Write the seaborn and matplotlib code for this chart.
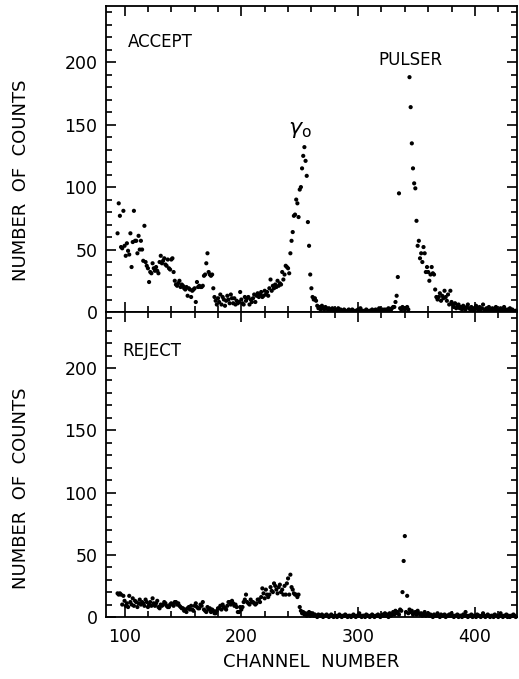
import numpy as np
import pandas as pd
import matplotlib
matplotlib.use("Agg")
import matplotlib.pyplot as plt
from matplotlib.ticker import MultipleLocator
import seaborn as sns

# ---------------- data ----------------
FIRST_CHANNEL = 94

ACCEPT_COUNTS = [
    63, 87, 77, 52, 51, 81, 53, 45, 55, 49,     # 94-103
    46, 63, 36, 56, 81, 57, 57, 47, 61, 50,     # 104-113
    57, 50, 41, 69, 40, 37, 35, 24, 32, 31,     # 114-123
    39, 35, 33, 36, 33, 31, 40, 45, 39, 41,     # 124-133
    43, 38, 37, 42, 35, 34, 42, 43, 32, 25,     # 134-143
    22, 21, 23, 25, 20, 22, 21, 19, 18, 20,     # 144-153
    13, 19, 18, 12, 17, 18, 19, 8, 24, 20,      # 154-163
    21, 20, 20, 21, 29, 30, 39, 47, 32, 30,     # 164-173
    29, 30, 19, 12, 9, 6, 11, 8, 14, 6,         # 174-183
    12, 10, 5, 9, 13, 10, 7, 14, 11, 7,         # 184-193
    11, 6, 9, 7, 8, 16, 10, 7, 6, 12,           # 194-203
    9, 11, 12, 6, 10, 8, 11, 14, 8, 13,         # 204-213
    15, 12, 14, 16, 12, 13, 17, 14, 16, 13,     # 214-223
    19, 26, 17, 21, 19, 22, 20, 25, 21, 23,     # 224-233
    22, 32, 26, 30, 37, 36, 35, 31, 47, 57,     # 234-243
    64, 77, 78, 90, 87, 76, 98, 100, 115, 125,  # 244-253
    132, 121, 109, 72, 53, 30, 19, 12, 10, 11,  # 254-263
    9, 5, 3, 4, 2, 5, 3, 2, 4, 3,               # 264-273
    2, 3, 1, 2, 3, 1, 2, 2, 1, 3,               # 274-283
    1, 2, 1, 1, 2, 1, 0, 1, 2, 1,               # 284-293
    1, 2, 1, 0, 1, 1, 2, 1, 3, 1,               # 294-303
    1, 0, 1, 2, 1, 0, 1, 1, 2, 1,               # 304-313
    1, 2, 1, 1, 3, 2, 1, 2, 1, 2,               # 314-323
    1, 2, 3, 2, 1, 3, 4, 4, 8, 13,              # 324-333
    28, 95, 3, 2, 4, 3, 2, 3, 4, 2,             # 334-343
    188, 164, 135, 115, 103, 99, 73, 53, 57, 43,  # 344-353
    47, 40, 52, 47, 32, 36, 32, 25, 30, 36,     # 354-363
    31, 30, 18, 12, 10, 12, 15, 9, 13, 11,      # 364-373
    17, 12, 9, 14, 6, 17, 8, 6, 4, 7,           # 374-383
    3, 5, 6, 3, 4, 2, 5, 3, 2, 4,               # 384-393
    6, 3, 2, 4, 1, 3, 2, 5, 3, 1,               # 394-403
    4, 2, 3, 6, 2, 1, 3, 2, 4, 1,               # 404-413
    2, 3, 1, 2, 4, 1, 2, 1, 3, 2,               # 414-423
    1, 4, 2, 1, 2, 1, 3, 1, 2, 1,               # 424-433
    0, 1,                                       # 434-435
]

REJECT_COUNTS = [
    19, 18, 19, 18, 10, 17, 13, 9, 11, 8,       # 94-103
    17, 12, 10, 15, 9, 13, 12, 8, 11, 14,       # 104-113
    10, 12, 11, 9, 14, 12, 8, 10, 12, 9,        # 114-123
    15, 11, 9, 11, 13, 8, 7, 10, 9, 10,         # 124-133
    12, 11, 9, 8, 8, 10, 11, 10, 9, 12,         # 134-143
    12, 10, 11, 9, 8, 7, 7, 5, 6, 4,            # 144-153
    7, 8, 6, 9, 6, 5, 9, 11, 8, 7,              # 154-163
    7, 10, 9, 12, 6, 5, 4, 8, 6, 7,             # 164-173
    4, 6, 5, 3, 3, 5, 7, 7, 9, 6,               # 174-183
    10, 8, 7, 6, 9, 12, 12, 10, 13, 11,         # 184-193
    9, 10, 8, 4, 4, 8, 6, 8, 12, 14,            # 194-203
    18, 12, 11, 10, 14, 12, 12, 11, 10, 11,     # 204-213
    14, 14, 12, 16, 23, 19, 15, 22, 18, 16,     # 214-223
    18, 24, 21, 20, 27, 25, 22, 19, 24, 26,     # 224-233
    20, 22, 18, 25, 18, 27, 31, 18, 34, 24,     # 234-243
    22, 19, 18, 18, 16, 18, 8, 5, 3, 4,         # 244-253
    2, 3, 1, 2, 4, 1, 2, 3, 1, 2,               # 254-263
    1, 0, 2, 1, 1, 2, 0, 1, 1, 2,               # 264-273
    1, 0, 1, 2, 1, 0, 1, 1, 0, 1,               # 274-283
    2, 1, 0, 1, 1, 2, 1, 0, 1, 1,               # 284-293
    0, 1, 2, 1, 0, 1, 1, 3, 1, 0,               # 294-303
    1, 1, 0, 2, 1, 1, 0, 1, 2, 1,               # 304-313
    0, 1, 1, 2, 1, 0, 1, 2, 1, 3,               # 314-323
    1, 2, 0, 3, 1, 2, 4, 2, 5, 3,               # 324-333
    4, 2, 6, 5, 20, 45, 65, 4, 17, 3,           # 334-343
    6, 4, 5, 2, 3, 4, 2, 5, 3, 2,               # 344-353
    3, 1, 2, 4, 1, 2, 3, 1, 2, 1,               # 354-363
    0, 2, 1, 1, 3, 1, 0, 2, 1, 1,               # 364-373
    2, 0, 1, 1, 2, 1, 3, 1, 0, 1,               # 374-383
    1, 2, 0, 1, 1, 0, 2, 1, 4, 1,               # 384-393
    0, 1, 1, 2, 0, 1, 1, 0, 2, 1,               # 394-403
    1, 0, 1, 3, 1, 0, 1, 2, 1, 0,               # 404-413
    1, 1, 0, 2, 1, 1, 0, 1, 3, 1,               # 414-423
    0, 1, 1, 2, 0, 1, 0, 1, 1, 2,               # 424-433
    1, 0,                                       # 434-435
]

X_TICKS = [100, 200, 300, 400]
Y_TICKS = [0, 50, 100, 150, 200]

# ---------------- frames ----------------
acc = pd.DataFrame({"channel": np.arange(FIRST_CHANNEL, FIRST_CHANNEL + len(ACCEPT_COUNTS)),
                    "counts": ACCEPT_COUNTS})
rej = pd.DataFrame({"channel": np.arange(FIRST_CHANNEL, FIRST_CHANNEL + len(REJECT_COUNTS)),
                    "counts": REJECT_COUNTS})

sns.set_style("ticks")
plt.rcParams["font.family"] = ["DejaVu Sans"]
plt.rcParams["text.color"] = "black"
plt.rcParams["axes.labelcolor"] = "black"
plt.rcParams["xtick.color"] = "black"
plt.rcParams["ytick.color"] = "black"
plt.rcParams["xtick.labelcolor"] = "black"
plt.rcParams["ytick.labelcolor"] = "black"

fig = plt.figure(figsize=(5.19, 6.79), dpi=100)
ax_top = fig.add_axes([0.204, 0.5405, 0.792, 0.4507])
ax_bot = fig.add_axes([0.204, 0.0913, 0.792, 0.4492])

for ax, df in ((ax_top, acc), (ax_bot, rej)):
    sns.scatterplot(data=df, x="channel", y="counts", ax=ax, s=9, color="black",
                    edgecolor="none", linewidth=0, legend=False, clip_on=False, zorder=3)
    ax.set_xlim(84, 436)
    ax.set_ylim(0, 245)
    ax.set_xticks(X_TICKS)
    ax.set_yticks(Y_TICKS)
    ax.xaxis.set_minor_locator(MultipleLocator(20))
    ax.yaxis.set_minor_locator(MultipleLocator(10))
    ax.tick_params(which="both", direction="in", top=True, right=True,
                   bottom=True, left=True, width=1.2, color="black")
    ax.tick_params(which="major", length=7)
    ax.tick_params(which="minor", length=4)
    ax.tick_params(axis="y", labelsize=12.5, pad=6, labelcolor="black")
    ax.tick_params(axis="x", labelsize=12.5, pad=8, labelcolor="black")
    for sp in ax.spines.values():
        sp.set_linewidth(1.3)
        sp.set_color("black")
    ax.set_xlabel("")
    ax.set_ylabel("NUMBER  OF  COUNTS", fontsize=13, color="black")

ax_top.tick_params(axis="x", labelbottom=False)
ax_top.yaxis.set_label_coords(-0.185, 0.43)
ax_bot.yaxis.set_label_coords(-0.185, 0.423)
ax_bot.set_xlabel("CHANNEL  NUMBER", fontsize=13, labelpad=5, color="black")

ax_top.text(0.054, 0.882, "ACCEPT", transform=ax_top.transAxes, fontsize=12,
            ha="left", va="center", color="black")
ax_top.text(0.742, 0.823, "PULSER", transform=ax_top.transAxes, fontsize=12,
            ha="center", va="center", color="black")
ax_top.text(0.472, 0.595, r"$\gamma_{\mathrm{o}}$", transform=ax_top.transAxes,
            fontsize=16, ha="center", va="center", color="black")
ax_bot.text(0.04, 0.872, "REJECT", transform=ax_bot.transAxes, fontsize=12,
            ha="left", va="center", color="black")

fig.savefig("out.png", dpi=100)
